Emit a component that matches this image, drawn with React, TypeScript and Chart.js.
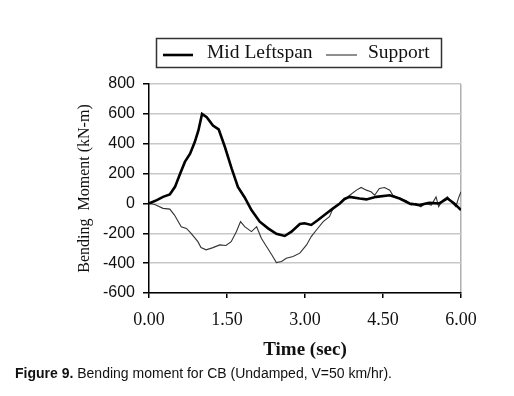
import React, { useEffect, useRef } from "react";
import { Chart, registerables } from "chart.js";

Chart.register(...registerables);

const seriesNames = ["Mid Leftspan", "Support"];

const timeMid = [0, 0.15, 0.27, 0.4, 0.5, 0.6, 0.69, 0.79, 0.88, 0.95, 1.02, 1.11, 1.23, 1.34, 1.46, 1.59, 1.71, 1.84, 1.97, 2.13, 2.29, 2.45, 2.61, 2.74, 2.9, 2.99, 3.12, 3.25, 3.41, 3.54, 3.67, 3.76, 3.86, 4.05, 4.18, 4.37, 4.63, 4.82, 5.01, 5.2, 5.39, 5.58, 5.74, 5.87, 6.0];
const momentMid = [0, 22, 44, 60, 111, 200, 278, 333, 411, 489, 600, 578, 522, 496, 378, 233, 111, 40, -44, -122, -167, -204, -218, -189, -138, -133, -144, -111, -67, -33, 0, 30, 44, 33, 27, 44, 55, 33, 0, -11, 4, 0, 33, 0, -44];

const timeSup = [0, 0.11, 0.27, 0.4, 0.49, 0.62, 0.72, 0.81, 0.94, 1.0, 1.1, 1.23, 1.36, 1.48, 1.58, 1.68, 1.76, 1.84, 1.97, 2.07, 2.16, 2.26, 2.36, 2.45, 2.55, 2.64, 2.77, 2.9, 3.03, 3.12, 3.22, 3.35, 3.47, 3.54, 3.63, 3.76, 3.86, 3.99, 4.08, 4.18, 4.27, 4.34, 4.43, 4.53, 4.63, 4.69, 4.82, 4.95, 5.04, 5.13, 5.23, 5.31, 5.43, 5.52, 5.57, 5.65, 5.74, 5.84, 5.9, 5.96, 6.0];
const momentSup = [0, -7, -33, -38, -78, -156, -167, -200, -256, -296, -311, -296, -278, -282, -256, -189, -122, -156, -189, -156, -233, -289, -344, -396, -389, -367, -356, -333, -278, -222, -178, -122, -89, -33, -11, 27, 55, 89, 107, 89, 78, 55, 100, 107, 89, 55, 33, 18, -11, 0, -22, 0, -11, 44, -22, 22, 44, 0, -22, 44, 78];

const xTicks = [0, 1.5, 3, 4.5, 6];
const yTicks = [-600, -400, -200, 0, 200, 400, 600, 800];

const legendPlugin = {
  id: "boxLegend",
  afterDraw(chart: any) {
    const ctx = chart.ctx;
    ctx.save();
    ctx.strokeStyle = "#333";
    ctx.lineWidth = 1.5;
    ctx.strokeRect(156.5, 38.5, 285, 29);
    const ds = chart.data.datasets;
    const items = [
      { x0: 163, x1: 193, tx: 207 },
      { x0: 326, x1: 357, tx: 368 },
    ];
    ctx.font = "19.5px 'Liberation Serif'";
    ctx.textBaseline = "middle";
    ctx.textAlign = "left";
    ds.forEach((d: any, i: number) => {
      const it = items[i];
      ctx.beginPath();
      ctx.strokeStyle = d.borderColor;
      ctx.lineWidth = d.borderWidth;
      ctx.moveTo(it.x0, 55);
      ctx.lineTo(it.x1, 55);
      ctx.stroke();
      ctx.fillStyle = "#111";
      ctx.fillText(d.label, it.tx, 53);
    });
    ctx.restore();
  },
};

export default function App() {
  const ref = useRef<HTMLCanvasElement>(null);
  useEffect(() => {
    if (!ref.current) return;
    const chart = new Chart(ref.current, {
      type: "line",
      data: {
        datasets: [
          {
            label: seriesNames[0],
            data: timeMid.map((t, i) => ({ x: t, y: momentMid[i] })),
            borderColor: "#000",
            borderWidth: 2.6,
            pointRadius: 0,
            tension: 0,
          },
          {
            label: seriesNames[1],
            data: timeSup.map((t, i) => ({ x: t, y: momentSup[i] })),
            borderColor: "#333",
            borderWidth: 1.1,
            pointRadius: 0,
            tension: 0,
          },
        ],
      },
      options: {
        responsive: false,
        animation: false,
        layout: { padding: { left: 65, right: 53, top: 84, bottom: 0 } },
        plugins: { legend: { display: false }, tooltip: { enabled: false } },
        scales: {
          x: {
            type: "linear",
            min: 0,
            max: 6,
            afterFit: (s: any) => {
              s.height = 103;
            },
            afterBuildTicks: (s: any) => {
              s.ticks = xTicks.map((v) => ({ value: v }));
            },
            ticks: {
              padding: 11,
              color: "#111",
              font: { family: "'Liberation Serif'", size: 18 },
              callback: (v: any) => Number(v).toFixed(2),
              maxRotation: 0,
            },
            grid: {
              color: (c: any) => (c.tick && c.tick.value === 6 ? "#b0b0b0" : "rgba(0,0,0,0)"),
              lineWidth: 1.5,
              tickColor: "#000",
              tickLength: 5,
            },
            border: { color: "#000", width: 1.5 },
            title: {
              display: true,
              text: "Time (sec)",
              color: "#111",
              font: { family: "'Liberation Serif'", size: 19, weight: "bold" },
              padding: { top: 0, bottom: 35 },
            },
          },
          y: {
            min: -600,
            max: 800,
            afterFit: (s: any) => {
              s.width = 84;
            },
            afterBuildTicks: (s: any) => {
              s.ticks = yTicks.map((v) => ({ value: v }));
            },
            ticks: {
              padding: 8,
              color: "#111",
              font: { family: "'Liberation Sans'", size: 16 },
            },
            grid: {
              color: "#c8c8c8",
              lineWidth: 1.5,
              tickColor: "#000",
              tickLength: 6,
            },
            border: { color: "#000", width: 1.5 },
            title: {
              display: true,
              text: "Bending  Moment (kN-m)",
              color: "#111",
              font: { family: "'Liberation Serif'", size: 16 },
              padding: { top: 10, bottom: 0 },
            },
          },
        },
      },
      plugins: [legendPlugin],
    });
    return () => chart.destroy();
  }, []);

  return (
    <div style={{ position: "fixed", left: 0, top: 0, width: 514, height: 396, background: "#fff" }}>
      <canvas ref={ref} width={514} height={396} style={{ position: "absolute", left: 0, top: 0 }} />
      <div
        style={{
          position: "absolute",
          left: 15,
          top: 365,
          fontFamily: "'Liberation Sans', Arial, sans-serif",
          fontSize: 14,
          color: "#111",
          whiteSpace: "nowrap",
        }}
      >
        <b>Figure 9.</b> Bending moment for CB (Undamped, V=50 km/hr).
      </div>
    </div>
  );
}
